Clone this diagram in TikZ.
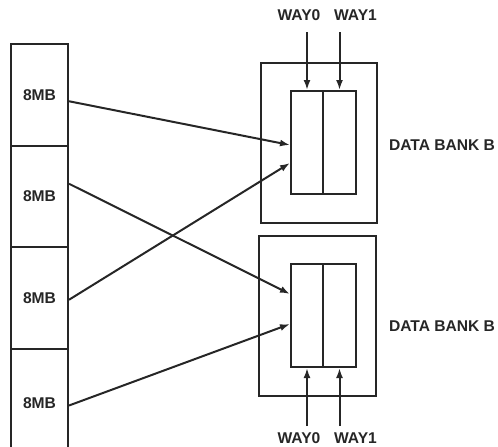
\documentclass[tikz,border=0pt]{standalone}
\usepackage{fontspec}
\setmainfont{Liberation Sans}
\usetikzlibrary{arrows.meta,positioning}
\definecolor{ink}{HTML}{262626}

\begin{document}
\begin{tikzpicture}[x=1pt,y=-1pt,line width=2pt,draw=ink,text=ink,
    font=\fontsize{15.6}{18}\selectfont\bfseries,
    mem/.style={draw,minimum width=57pt,minimum height=101.5pt,anchor=north west,inner sep=0pt},
    bank/.style={draw,minimum height=160pt,anchor=north west,inner sep=0pt},
    way/.style={draw,minimum height=103pt,anchor=north west,inner sep=0pt},
    link/.style={-{Latex[length=10pt,width=7pt]}}]
    \useasboundingbox (0,0) rectangle (498,447);
    % memory column
    \node[mem] (m1) at (10,43) {8MB};
    \node[mem] (m2) at (10,144.5) {8MB};
    \node[mem] (m3) at (10,246) {8MB};
    \node[mem,minimum height=110pt] (m4) at (10,347.5) {8MB};
    % the two banks
    \node[bank,minimum width=116pt] (b1) at (260,62) {};
    \node[way,minimum width=32pt] (w10) at (290,90) {};
    \node[way,minimum width=33pt] (w11) at (322,90) {};
    \node[bank,minimum width=117pt] (b2) at (258,235) {};
    \node[way,minimum width=32pt] (w20) at (290,263) {};
    \node[way,minimum width=33pt] (w21) at (322,263) {};
    \node[anchor=west,inner sep=0pt] (n1) at (388,145) {DATA BANK B};
    \node[anchor=west,inner sep=0pt] (n2) at (388,326) {DATA BANK B};
    % way labels
    \node (l10) at (299,15) {WAY0};
    \node (l11) at (355.5,15) {WAY1};
    \node[inner sep=0pt] (l20) at (299,438.5) {WAY0};
    \node[inner sep=0pt] (l21) at (355.5,438.5) {WAY1};
    \path (w10.north) ++(0,-58) coordinate (t10);
    \path (w11.north) ++(0,-58) coordinate (t11);
    \path (w20.south) ++(0,58) coordinate (t20);
    \path (w21.south) ++(0,58) coordinate (t21);
    \draw[link] (t10) -- (w10.north);
    \draw[link] (t11) -- (w11.north);
    \draw[link] (t20) -- (w20.south);
    \draw[link] (t21) -- (w21.south);
    % mapping
    \coordinate (s1) at ([yshift=-6.5pt]m1.east);
    \coordinate (s2) at ([yshift=12.5pt]m2.east);
    \coordinate (s3) at ([yshift=-2pt]m3.east);
    \coordinate (s4) at ([yshift=-2pt]m4.east);
    \coordinate (e1) at ([yshift=-2.5pt]w10.west);
    \coordinate (e2) at ([yshift=-20.5pt]w10.west);
    \coordinate (e3) at ([yshift=21.5pt]w20.west);
    \coordinate (e4) at ([yshift=-8.5pt]w20.west);
    \draw[link] (s1) -- (e1);
    \draw[link] (s2) -- (e3);
    \draw[link] (s3) -- (e2);
    \draw[link] (s4) -- (e4);
\end{tikzpicture}
\end{document}
